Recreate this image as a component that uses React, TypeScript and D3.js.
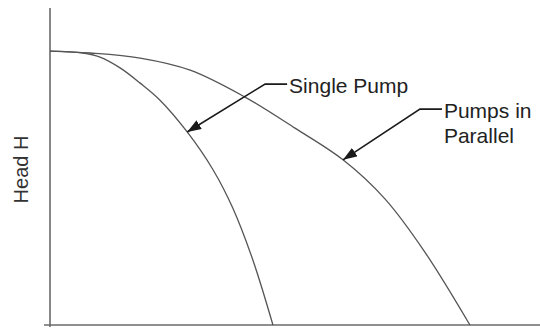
import React, { useRef, useEffect } from "react";
import * as d3 from "d3";

// flow (0-100) vs head (0-100)
const singleFlow = [0, 6.7, 10.2, 14.3, 18.4, 22.4, 28, 33.3, 37.3, 41.4, 45.5];
const singleHead = [86.4, 85.8, 84.5, 81.1, 76.3, 71.0, 60.9, 48.9, 36.9, 20.5, 0];

const parallelFlow = [0, 8.2, 18.4, 28.6, 39.8, 50, 59.8, 68.4, 76.5, 85.7];
const parallelHead = [86.4, 85.8, 84.2, 80.4, 71.9, 62.1, 52.1, 39.7, 23.0, 0];

// annotation: arrow tip and elbow in data units
const labels = [
  { lines: ["Single Pump"], tip: [28, 60.9], elbow: [43.9, 76] },
  { lines: ["Pumps in", "Parallel"], tip: [59.8, 52.1], elbow: [75.5, 68.1] },
];

const yTitle = "Head H";

const App = () => {
  const svgRef = useRef<SVGSVGElement>(null);

  useEffect(() => {
    const svg = d3.select(svgRef.current);
    svg.selectAll("*").remove();

    const width = 540,
      height = 328,
      margin = { top: 8, right: 0, bottom: 3, left: 50 };

    const x = d3
      .scaleLinear()
      .domain([0, 100])
      .range([margin.left, width - margin.right]);
    const y = d3
      .scaleLinear()
      .domain([0, 100])
      .range([height - margin.bottom, margin.top]);

    const font = "Arial, 'Liberation Sans', sans-serif";

    svg
      .append("defs")
      .append("marker")
      .attr("id", "arrow")
      .attr("markerUnits", "userSpaceOnUse")
      .attr("viewBox", "0 0 14 10")
      .attr("refX", 14)
      .attr("refY", 5)
      .attr("markerWidth", 14)
      .attr("markerHeight", 10)
      .attr("orient", "auto")
      .append("path")
      .attr("d", "M0,0 L14,5 L0,10 Z")
      .attr("fill", "#1a1a1a");

    // axes
    svg
      .append("line")
      .attr("x1", x(0))
      .attr("x2", x(0))
      .attr("y1", y(100))
      .attr("y2", y(0) + 2)
      .attr("stroke", "#6a6a6a")
      .attr("stroke-width", 1.6);
    svg
      .append("line")
      .attr("x1", x(0) - 6)
      .attr("x2", x(100))
      .attr("y1", y(0))
      .attr("y2", y(0))
      .attr("stroke", "#6a6a6a")
      .attr("stroke-width", 1.6);

    // curves
    const line = d3
      .line<[number, number]>()
      .x((d) => x(d[0]))
      .y((d) => y(d[1]))
      .curve(d3.curveCatmullRom.alpha(0.5));

    const series = [
      d3.zip(singleFlow, singleHead) as [number, number][],
      d3.zip(parallelFlow, parallelHead) as [number, number][],
    ];

    svg
      .selectAll(".curve")
      .data(series)
      .enter()
      .append("path")
      .attr("class", "curve")
      .attr("d", (d) => line(d))
      .attr("fill", "none")
      .attr("stroke", "#555")
      .attr("stroke-width", 1.3);

    // annotations
    labels.forEach((l) => {
      const ex = x(l.elbow[0]),
        ey = y(l.elbow[1]);
      svg
        .append("path")
        .attr("d", `M${ex + 22},${ey} L${ex},${ey} L${x(l.tip[0])},${y(l.tip[1])}`)
        .attr("fill", "none")
        .attr("stroke", "#1a1a1a")
        .attr("stroke-width", 1.6)
        .attr("marker-end", "url(#arrow)");
      const t = svg
        .append("text")
        .attr("x", ex + 24)
        .attr("y", ey + 9)
        .attr("font-family", font)
        .attr("font-size", 21)
        .attr("fill", "#222");
      l.lines.forEach((s, i) => {
        t.append("tspan")
          .attr("x", ex + 24)
          .attr("dy", i === 0 ? 0 : 25)
          .text(s);
      });
    });

    // y title
    svg
      .append("text")
      .attr("transform", `translate(28,${y(50) + 3}) rotate(-90)`)
      .attr("text-anchor", "middle")
      .attr("font-family", font)
      .attr("font-size", 20)
      .attr("fill", "#333")
      .text(yTitle);
  }, []);

  return (
    <svg
      ref={svgRef}
      width={540}
      height={328}
      style={{ position: "fixed", top: 0, left: 0, background: "#fff" }}
    ></svg>
  );
};

export default App;
